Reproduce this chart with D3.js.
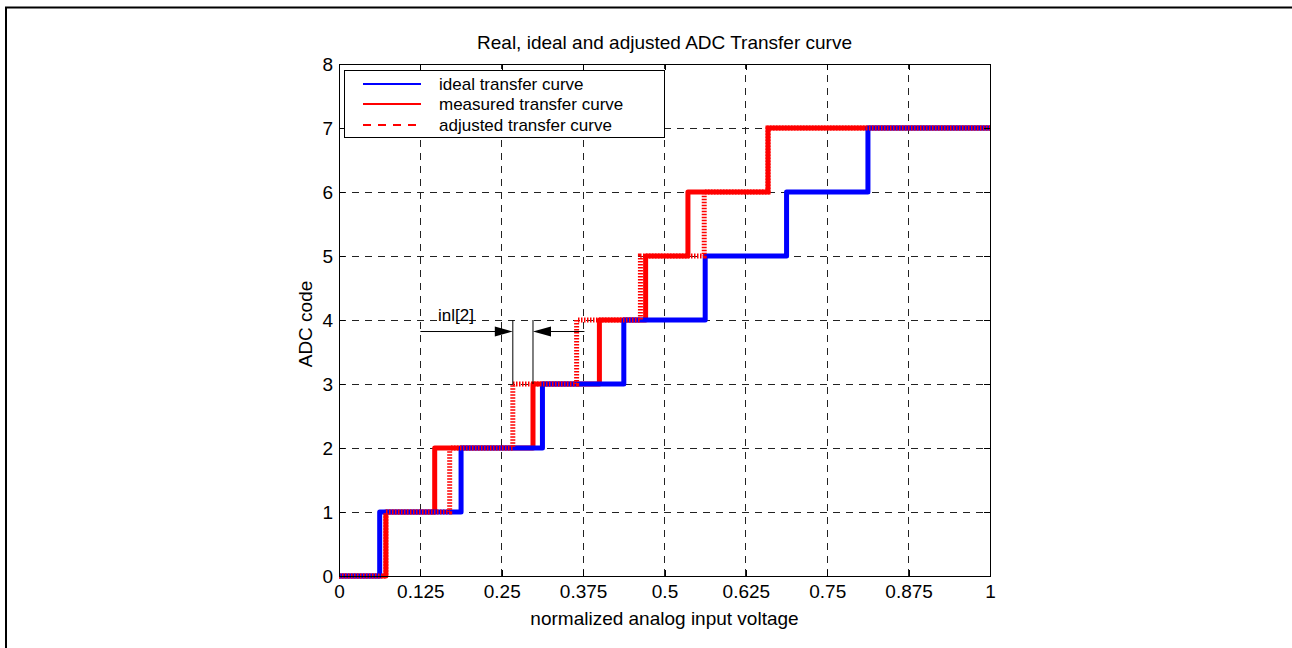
<!DOCTYPE html>
<html>
<head>
<meta charset="utf-8">
<script src="https://cdn.jsdelivr.net/npm/d3@7/dist/d3.min.js"></script>
<style>
  html, body { margin: 0; padding: 0; background: #fff; }
  svg { display: block; }
  text { font-family: "Liberation Sans", Arial, sans-serif; fill: #000; }
</style>
</head>
<body>
<svg id="chart" width="1292" height="648"></svg>
<script>
// ADC codes 0..7 of a 3-bit converter
const codes = [0, 1, 2, 3, 4, 5, 6, 7];
// input voltage at which the output steps from code k to k+1
const idealTransitions    = [0.0625, 0.1875, 0.3125, 0.4375, 0.5625, 0.6875, 0.8125];
const measuredTransitions = [0.072, 0.147, 0.298, 0.400, 0.471, 0.536, 0.659];
const adjustedTransitions = [0.072, 0.170, 0.267, 0.365, 0.463, 0.561, 0.659];

const xTickValues = [0, 0.125, 0.25, 0.375, 0.5, 0.625, 0.75, 0.875, 1];
const xTickLabels = ["0", "0.125", "0.25", "0.375", "0.5", "0.625", "0.75", "0.875", "1"];
const yTickValues = [0, 1, 2, 3, 4, 5, 6, 7, 8];

const seriesNames = ["ideal transfer curve", "measured transfer curve", "adjusted transfer curve"];

const titleText = "Real, ideal and adjusted ADC Transfer curve";
const xLabelText = "normalized analog input voltage";
const yLabelText = "ADC code";
const inlLabel = "inl[2]";
const inlIndex = 2;         // transition 2 -> 3
const inlArrowStart = 0.125;
const inlArrowEnd = 0.377;
const inlArrowLevel = 3.82;

const svg = d3.select("#chart");
const FONT = 19;        // title, axis labels, tick labels
const SMALL_FONT = 17;  // legend and annotation

// page frame
svg.append("line").attr("x1", 5).attr("x2", 1292).attr("y1", 7.5).attr("y2", 7.5)
  .attr("stroke", "#000").attr("stroke-width", 2);
svg.append("line").attr("x1", 6).attr("x2", 6).attr("y1", 7).attr("y2", 648)
  .attr("stroke", "#000").attr("stroke-width", 2);

const plot = { left: 339, right: 990, top: 64, bottom: 576 };
const x = d3.scaleLinear().domain([0, 1]).range([plot.left, plot.right]);
const y = d3.scaleLinear().domain([0, 8]).range([plot.bottom, plot.top]);

const g = svg.append("g");

// grid
const grid = g.append("g").attr("stroke", "#222").attr("stroke-width", 1)
  .attr("stroke-dasharray", "7,6").attr("shape-rendering", "crispEdges");
xTickValues.slice(1, -1).forEach(v => {
  grid.append("line").attr("x1", x(v)).attr("x2", x(v))
    .attr("y1", plot.bottom).attr("y2", plot.top);
});
yTickValues.slice(1, -1).forEach(v => {
  grid.append("line").attr("x1", plot.left).attr("x2", plot.right)
    .attr("y1", y(v)).attr("y2", y(v));
});

// staircase from a list of transition voltages
function staircase(trans) {
  const pts = [[0, codes[0]]];
  trans.forEach((t, i) => {
    pts.push([t, codes[i]]);
    pts.push([t, codes[i + 1]]);
  });
  pts.push([1, codes[codes.length - 1]]);
  return pts;
}
const line = d3.line().x(d => x(d[0])).y(d => y(d[1]));

g.append("path").datum(staircase(measuredTransitions))
  .attr("d", line).attr("fill", "none").attr("stroke", "#ff0000")
  .attr("stroke-width", 5).attr("stroke-linejoin", "round");
g.append("path").datum(staircase(idealTransitions))
  .attr("d", line).attr("fill", "none").attr("stroke", "#0000ff")
  .attr("stroke-width", 5).attr("stroke-linejoin", "round");
g.append("path").datum(staircase(adjustedTransitions))
  .attr("d", line).attr("fill", "none").attr("stroke", "#ff0000")
  .attr("stroke-width", 5).attr("stroke-dasharray", "1.5,1.5");

// axes box with inward ticks
function styleAxis(sel) {
  sel.selectAll("path").attr("stroke", "#000").attr("shape-rendering", "crispEdges");
  sel.selectAll("line").attr("stroke", "#000").attr("shape-rendering", "crispEdges");
  sel.selectAll("text").attr("font-size", FONT).attr("font-family", "Liberation Sans, Arial, sans-serif");
}
g.append("g").attr("transform", `translate(0,${plot.bottom})`)
  .call(d3.axisBottom(x).tickValues(xTickValues).tickFormat((d, i) => xTickLabels[i])
    .tickSizeInner(-6).tickSizeOuter(0).tickPadding(9))
  .call(styleAxis);
g.append("g").attr("transform", `translate(0,${plot.top})`)
  .call(d3.axisTop(x).tickValues(xTickValues).tickFormat("")
    .tickSizeInner(-6).tickSizeOuter(0))
  .call(styleAxis);
g.append("g").attr("transform", `translate(${plot.left},0)`)
  .call(d3.axisLeft(y).tickValues(yTickValues).tickFormat(d3.format("d"))
    .tickSizeInner(-6).tickSizeOuter(0).tickPadding(6))
  .call(styleAxis);
g.append("g").attr("transform", `translate(${plot.right},0)`)
  .call(d3.axisRight(y).tickValues(yTickValues).tickFormat("")
    .tickSizeInner(-6).tickSizeOuter(0))
  .call(styleAxis);

// titles
svg.append("text").attr("x", x(0.5)).attr("y", 49).attr("text-anchor", "middle")
  .attr("font-size", FONT).text(titleText);
svg.append("text").attr("x", x(0.5)).attr("y", 625).attr("text-anchor", "middle")
  .attr("font-size", FONT).text(xLabelText);
svg.append("text").attr("transform", `translate(312,${y(4) + 4}) rotate(-90)`)
  .attr("text-anchor", "middle").attr("font-size", FONT).text(yLabelText);

// inl[2] annotation
const ann = g.append("g").attr("stroke", "#000").attr("stroke-width", 1);
const xa = x(adjustedTransitions[inlIndex]);
const xm = x(measuredTransitions[inlIndex]);
const ya = y(inlArrowLevel);
[xa, xm].forEach(xx => {
  ann.append("line").attr("x1", xx).attr("x2", xx)
    .attr("y1", y(codes[inlIndex + 2])).attr("y2", y(codes[inlIndex + 1]));
});
ann.append("line").attr("x1", x(inlArrowStart)).attr("x2", xa - 10).attr("y1", ya).attr("y2", ya);
ann.append("line").attr("x1", x(inlArrowEnd)).attr("x2", xm + 10).attr("y1", ya).attr("y2", ya);
g.append("path").attr("d", `M${xa},${ya} L${xa - 18},${ya - 5} L${xa - 18},${ya + 5} Z`).attr("fill", "#000");
g.append("path").attr("d", `M${xm},${ya} L${xm + 18},${ya - 5} L${xm + 18},${ya + 5} Z`).attr("fill", "#000");
g.append("text").attr("x", 438).attr("y", 321).attr("font-size", SMALL_FONT).text(inlLabel);

// legend
const leg = svg.append("g");
leg.append("rect").attr("x", 344.5).attr("y", 70.5).attr("width", 320).attr("height", 67)
  .attr("fill", "#fff").attr("stroke", "#000").attr("stroke-width", 1);
const legStyles = [
  { color: "#0000ff", dash: null },
  { color: "#ff0000", dash: null },
  { color: "#ff0000", dash: "8,7" }
];
const rowY = [84, 104, 125];
seriesNames.forEach((name, i) => {
  const l = leg.append("line").attr("x1", 363).attr("x2", 421)
    .attr("y1", rowY[i]).attr("y2", rowY[i])
    .attr("stroke", legStyles[i].color).attr("stroke-width", 2);
  if (legStyles[i].dash) l.attr("stroke-dasharray", legStyles[i].dash);
  leg.append("text").attr("x", 439).attr("y", rowY[i] + 6).attr("font-size", SMALL_FONT).text(name);
});
</script>
</body>
</html>
